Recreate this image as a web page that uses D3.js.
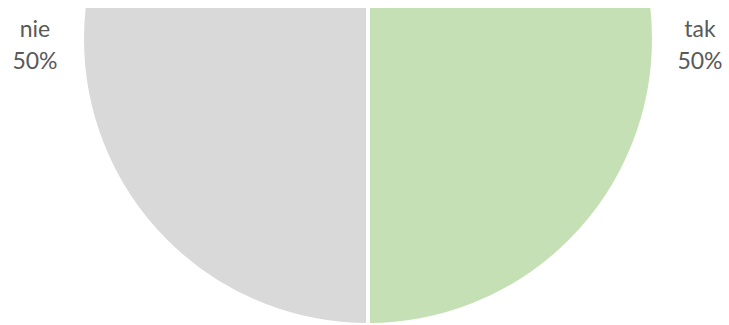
<!DOCTYPE html>
<html><head><meta charset="utf-8">
<script src="https://cdn.jsdelivr.net/npm/d3@7"></script>
<style>body{margin:0;background:#fff}svg{display:block}</style>
</head><body>
<script>
const categories = ["tak", "nie"];
const values = [50, 50];
const percentLabels = ["50%", "50%"];
const colors = ["#c5e0b4", "#d9d9d9"];

const W = 729, H = 325;
const svg = d3.select("body").append("svg").attr("width", W).attr("height", H);
const cx = 368, cy = 39, r = 286;

svg.append("clipPath").attr("id", "plot").append("rect")
  .attr("x", 0).attr("y", 8).attr("width", W).attr("height", H - 8);

const pie = d3.pie().sort(null).startAngle(0).endAngle(2 * Math.PI)(values);
const arc = d3.arc().innerRadius(0).outerRadius(r);
const g = svg.append("g").attr("clip-path", "url(#plot)")
  .append("g").attr("transform", `translate(${cx},${cy})`);
g.selectAll("path").data(pie).join("path")
  .attr("d", arc)
  .attr("fill", (d, i) => colors[i])
  .attr("stroke", "#fff").attr("stroke-width", 4).attr("stroke-linejoin", "round");

const labelPos = [[700, 37], [35, 37]];
const lab = svg.append("g").attr("font-family", "Lato, 'Open Sans', sans-serif")
  .attr("font-size", 23).attr("fill", "#595959").attr("text-anchor", "middle");
categories.forEach((c, i) => {
  const t = lab.append("text").attr("x", labelPos[i][0]).attr("y", labelPos[i][1]);
  t.append("tspan").attr("x", labelPos[i][0]).text(c);
  t.append("tspan").attr("x", labelPos[i][0]).attr("dy", 32).text(percentLabels[i]);
});
</script>
</body></html>
